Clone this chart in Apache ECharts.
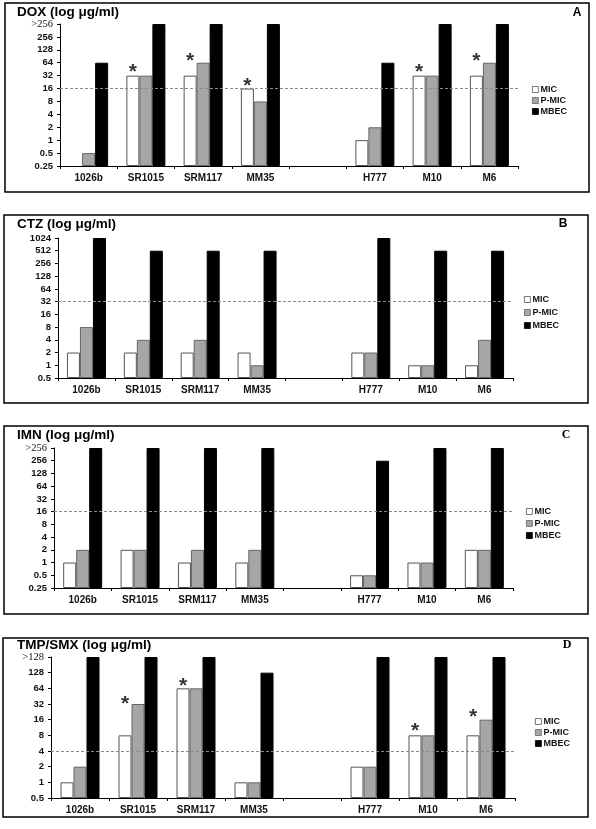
<!DOCTYPE html>
<html>
<head>
<meta charset="utf-8">
<script src="https://cdn.jsdelivr.net/npm/echarts@6.0.0/dist/echarts.min.js"></script>
<style>
html,body{margin:0;padding:0;background:#fff;}
#chart{width:596px;height:829px;}
</style>
</head>
<body>
<div id="chart"></div>
<script>
// ---------------- DATA ----------------
const categories = ['1026b', 'SR1015', 'SRM117', 'MM35', '', 'H777', 'M10', 'M6'];
const seriesNames = ['MIC', 'P-MIC', 'MBEC'];

// DOX (panel A)
const doxTicks = ['0.25', '0.5', '1', '2', '4', '8', '16', '32', '64', '128', '256', '>256'];
const doxMIC  = [null, 32, 32, 16, null, 1, 32, 32];
const doxPMIC = [0.5, 32, 64, 8, null, 2, 32, 64];
const doxMBEC = [64, 512, 512, 512, null, 64, 512, 512];
const doxBreakpoint = 16;
const doxStars = [null, 48, 88, 23, null, null, 48, 84];

// CTZ (panel B)
const ctzTicks = ['0.5', '1', '2', '4', '8', '16', '32', '64', '128', '256', '512', '1024'];
const ctzMIC  = [2, 2, 2, 2, null, 2, 1, 1];
const ctzPMIC = [8, 4, 4, 1, null, 2, 1, 4];
const ctzMBEC = [1024, 512, 512, 512, null, 1024, 512, 512];
const ctzBreakpoint = 32;
const ctzStars = [null, null, null, null, null, null, null, null];

// IMN (panel C)
const imnTicks = ['0.25', '0.5', '1', '2', '4', '8', '16', '32', '64', '128', '256', '>256'];
const imnMIC  = [1, 2, 1, 1, null, 0.5, 1, 2];
const imnPMIC = [2, 2, 2, 2, null, 0.5, 1, 2];
const imnMBEC = [512, 512, 512, 512, null, 256, 512, 512];
const imnBreakpoint = 16;
const imnStars = [null, null, null, null, null, null, null, null];

// TMP/SMX (panel D)
const tmpTicks = ['0.5', '1', '2', '4', '8', '16', '32', '64', '128', '>128'];
const tmpMIC  = [1, 8, 64, 1, null, 2, 8, 8];
const tmpPMIC = [2, 32, 64, 1, null, 2, 8, 16];
const tmpMBEC = [256, 256, 256, 128, null, 256, 256, 256];
const tmpBreakpoint = 4;
const tmpStars = [null, 38, 84, null, null, null, 11.5, 21];

const panels = [
  { title: 'DOX (log μg/ml)', letter: 'A', ticks: doxTicks, mic: doxMIC, pmic: doxPMIC, mbec: doxMBEC, bp: doxBreakpoint, stars: doxStars },
  { title: 'CTZ (log μg/ml)', letter: 'B', ticks: ctzTicks, mic: ctzMIC, pmic: ctzPMIC, mbec: ctzMBEC, bp: ctzBreakpoint, stars: ctzStars },
  { title: 'IMN (log μg/ml)', letter: 'C', ticks: imnTicks, mic: imnMIC, pmic: imnPMIC, mbec: imnMBEC, bp: imnBreakpoint, stars: imnStars },
  { title: 'TMP/SMX (log μg/ml)', letter: 'D', ticks: tmpTicks, mic: tmpMIC, pmic: tmpPMIC, mbec: tmpMBEC, bp: tmpBreakpoint, stars: tmpStars }
];

// ---------------- LAYOUT ----------------
const layouts = [
  { box: [5, 3, 584, 189],   grid: [60, 24, 458, 142],  title: [17, 12],  letter: [577, 13],  letterSerif: false, legend: [532, 85],  gap: 2 },
  { box: [4, 215, 584, 188], grid: [58, 238, 455, 140], title: [17, 224], letter: [563, 224], letterSerif: false, legend: [524, 295], gap: 4 },
  { box: [4, 426, 584, 188], grid: [54, 448, 459, 140], title: [17, 435], letter: [566, 435], letterSerif: true,  legend: [526, 507], gap: 3 },
  { box: [3, 638, 585, 179], grid: [51, 657, 464, 141], title: [17, 645], letter: [567, 645], letterSerif: true,  legend: [535, 717], gap: 2 }
];

const SANS = '"Liberation Sans", Arial, sans-serif';
const SERIF = '"Liberation Serif", "Times New Roman", serif';
const BAR_W = 13;

const option = {
  animation: false,
  backgroundColor: '#ffffff',
  grid: [], xAxis: [], yAxis: [], series: [], legend: [], graphic: []
};

panels.forEach((p, i) => {
  const L = layouts[i];
  const base = parseFloat(p.ticks[0]);
  const toY = v => (v == null ? null : Math.log2(v / base));

  option.grid.push({ left: L.grid[0], top: L.grid[1], width: L.grid[2], height: L.grid[3], containLabel: false });

  option.xAxis.push({
    type: 'category', gridIndex: i, data: categories,
    axisLine: { show: true, lineStyle: { color: '#000', width: 1 } },
    axisTick: { show: true, length: 3, lineStyle: { color: '#000' } },
    axisLabel: { color: '#111', fontFamily: SANS, fontWeight: 'bold', fontSize: 10, margin: 7, interval: 0 },
    splitLine: { show: false }
  });

  option.yAxis.push({
    type: 'value', gridIndex: i, min: 0, max: p.ticks.length - 1, interval: 1,
    axisLine: { show: true, lineStyle: { color: '#000', width: 1 } },
    axisTick: { show: true, length: 3, lineStyle: { color: '#000' } },
    splitLine: { show: false },
    axisLabel: {
      color: '#111', fontFamily: SANS, fontWeight: 'bold', fontSize: 9.5, margin: 7,
      formatter: v => {
        const t = p.ticks[Math.round(v)];
        if (t == null) return '';
        return t.charAt(0) === '>' ? '{s|' + t + '}' : t;
      },
      rich: { s: { fontFamily: SERIF, fontSize: 10.5, fontWeight: 'normal', color: '#111' } }
    }
  });

  const barBase = { type: 'bar', xAxisIndex: i, yAxisIndex: i, barWidth: BAR_W, barGap: '0%', z: 3 };
  option.series.push(Object.assign({}, barBase, {
    name: seriesNames[0], data: p.mic.map(toY),
    itemStyle: { color: '#ffffff', borderColor: '#555', borderWidth: 1 }
  }));
  option.series.push(Object.assign({}, barBase, {
    name: seriesNames[1], data: p.pmic.map(toY),
    itemStyle: { color: '#a6a6a6', borderColor: '#666', borderWidth: 1 }
  }));
  option.series.push(Object.assign({}, barBase, {
    name: seriesNames[2], data: p.mbec.map(toY),
    itemStyle: { color: '#000000', borderColor: '#000', borderWidth: 1 }
  }));

  // breakpoint dashed line (behind bars)
  option.series.push({
    type: 'line', xAxisIndex: i, yAxisIndex: i, data: [], z: 1, silent: true,
    markLine: {
      silent: true, symbol: 'none', animation: false,
      label: { show: false },
      lineStyle: { type: [3, 2], color: '#8a8a8a', width: 1 },
      data: [{ yAxis: toY(p.bp) }]
    }
  });

  // asterisks
  const starData = [];
  p.stars.forEach((v, k) => { if (v != null) starData.push([k, toY(v)]); });
  if (starData.length) {
    option.series.push({
      type: 'scatter', xAxisIndex: i, yAxisIndex: i, data: starData, z: 5, silent: true,
      symbol: 'circle', symbolSize: 1, itemStyle: { color: 'rgba(0,0,0,0)' },
      label: { show: true, formatter: '*', position: 'inside', offset: [-BAR_W, 4],
               fontFamily: SANS, fontSize: 21, fontWeight: 'bold', color: '#000' }
    });
  }

  option.legend.push({
    data: seriesNames.map(n => ({ name: n, itemStyle: { borderWidth: 0.8 } })),
    orient: 'vertical', left: L.legend[0], top: L.legend[1],
    itemWidth: 6, itemHeight: 6, itemGap: L.gap, icon: 'rect', padding: 0,
    selectedMode: false,
    textStyle: { fontFamily: SANS, fontWeight: 'bold', fontSize: 9, color: '#111', padding: [0, 0, 0, -3] }
  });

  option.graphic.push({
    type: 'rect', shape: { x: L.box[0], y: L.box[1], width: L.box[2], height: L.box[3] },
    style: { fill: 'none', stroke: '#000', lineWidth: 1.5 }, z: 0, silent: true
  });
  option.graphic.push({
    type: 'text', x: L.title[0], y: L.title[1],
    style: { text: p.title, font: 'bold 13.5px ' + SANS, fill: '#000', align: 'left', verticalAlign: 'middle' },
    z: 10, silent: true
  });
  option.graphic.push({
    type: 'text', x: L.letter[0], y: L.letter[1],
    style: { text: p.letter, font: 'bold 12px ' + (L.letterSerif ? SERIF : SANS), fill: '#000', align: 'center', verticalAlign: 'middle' },
    z: 10, silent: true
  });
});

const chart = echarts.init(document.getElementById('chart'), null, { renderer: 'canvas' });
chart.setOption(option);
</script>
</body>
</html>
